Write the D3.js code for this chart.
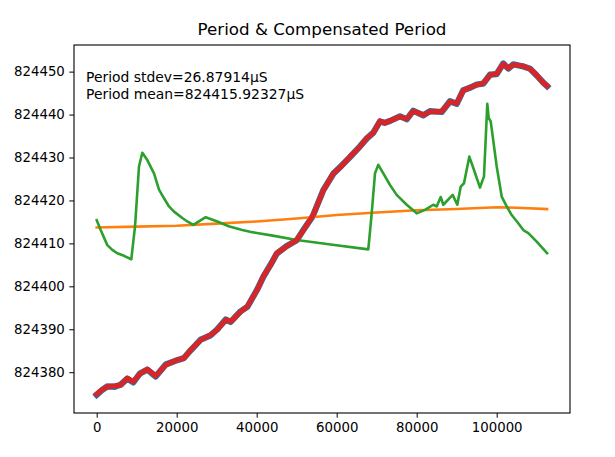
<!DOCTYPE html>
<html>
<head>
<meta charset="utf-8">
<script src="https://cdn.jsdelivr.net/npm/d3@7"></script>
<style>
  html, body { margin: 0; padding: 0; background: #fff; }
  svg { display: block; font-family: "DejaVu Sans", sans-serif; }
</style>
</head>
<body>
<svg id="chart" width="615" height="457"></svg>
<script>
// ---- data ----
const periodX = [0, 1300, 2650, 4500, 6000, 7650, 9150, 10800, 12650, 14750, 17250, 20150, 21800, 23500, 26000, 28500, 30150, 32250, 33500, 36000, 37650, 40150, 41650, 43500, 45000, 47500, 50000, 52000, 54000, 56650, 59150, 61000, 63325, 65825, 67500, 69150, 70825, 72000, 73325, 75825, 77500, 79150, 81650, 83325, 86250, 88325, 90000, 91650, 93500, 95000, 96650, 98325, 100000, 101650, 102900, 104150, 106650, 108325, 110000, 111500, 112600];
const periodY = [824374.7, 824375.8, 824376.7, 824376.6, 824377.1, 824378.5, 824377.6, 824379.7, 824380.6, 824379.0, 824381.8, 824382.8, 824383.3, 824385.1, 824387.6, 824388.6, 824390.0, 824392.3, 824391.7, 824394.2, 824395.2, 824399.3, 824402.2, 824405.1, 824407.6, 824409.4, 824410.7, 824413.6, 824416.3, 824422.4, 824426.2, 824427.9, 824430.1, 824432.6, 824434.4, 824435.8, 824438.4, 824438.1, 824438.5, 824439.6, 824438.9, 824440.9, 824439.8, 824440.8, 824440.6, 824443.1, 824442.5, 824445.7, 824446.3, 824447.0, 824447.2, 824449.3, 824449.4, 824451.9, 824450.7, 824451.7, 824451.2, 824450.7, 824449.1, 824447.6, 824446.6];

const trendX = [0, 10000, 20000, 30000, 40000, 50000, 60000, 70000, 80000, 90000, 100000, 105000, 112600];
const trendY = [824413.7, 824413.9, 824414.1, 824414.6, 824415.1, 824415.8, 824416.6, 824417.2, 824417.7, 824418.0, 824418.4, 824418.3, 824418.0];

const tempX = [0, 1000, 2650, 3900, 5150, 6825, 8650, 9575, 10575, 11400, 12650, 14325, 15575, 16825, 18075, 19325, 21400, 22650, 24150, 27250, 30150, 33000, 36400, 38325, 44000, 50000, 58000, 67900, 68750, 69575, 70400, 71650, 73325, 74990, 77500, 80000, 82075, 84150, 85000, 86000, 86650, 89000, 90150, 91000, 91825, 93150, 94325, 95825, 96825, 97650, 98000, 98500, 100000, 101250, 102500, 103750, 105400, 106650, 107900, 110000, 112600];
const tempY = [824415.4, 824413.1, 824409.6, 824408.5, 824407.7, 824407.1, 824406.3, 824413.9, 824427.9, 824431.1, 824429.4, 824426.3, 824422.5, 824420.5, 824418.6, 824417.4, 824415.9, 824415.1, 824414.3, 824416.1, 824415.1, 824414.0, 824413.1, 824412.7, 824411.8, 824410.8, 824409.8, 824408.6, 824417.0, 824426.3, 824428.3, 824426.3, 824423.6, 824421.3, 824419.0, 824417.0, 824417.8, 824419.0, 824418.6, 824420.8, 824419.0, 824421.3, 824419.0, 824423.2, 824424.0, 824430.2, 824427.1, 824423.0, 824425.6, 824442.5, 824439.2, 824438.4, 824427.9, 824420.9, 824418.6, 824416.6, 824414.7, 824413.1, 824412.4, 824410.4, 824407.7];

const compX = periodX;
const compY = [824374.9, 824375.9, 824376.6, 824376.8, 824377.0, 824378.6, 824377.8, 824379.6, 824380.7, 824379.1, 824381.7, 824382.9, 824383.2, 824385.2, 824387.5, 824388.7, 824389.9, 824392.2, 824391.8, 824394.1, 824395.3, 824399.2, 824402.3, 824405.0, 824407.7, 824409.3, 824410.8, 824413.5, 824416.4, 824422.3, 824426.3, 824427.8, 824430.2, 824432.5, 824434.5, 824435.7, 824438.5, 824438.0, 824438.6, 824439.5, 824439.0, 824440.8, 824439.9, 824440.7, 824440.7, 824443.0, 824442.6, 824445.6, 824446.4, 824446.9, 824447.3, 824449.2, 824449.5, 824451.8, 824450.8, 824451.6, 824451.3, 824450.6, 824449.2, 824447.5, 824446.7];

const xTicks = [0, 20000, 40000, 60000, 80000, 100000];
const yTicks = [824380, 824390, 824400, 824410, 824420, 824430, 824440, 824450];
const titleText = "Period & Compensated Period";
const noteLines = ["Period stdev=26.87914\u03bcS", "Period mean=824415.92327\u03bcS"];

// ---- layout ----
const svg = d3.select("#chart");
const L = 74, R = 570, T = 45, B = 413;

const x = d3.scaleLinear().domain([-5675, 118325]).range([L, R]);
const y = d3.scaleLinear().domain([824370.5, 824456.2]).range([B, T]);

const g = svg.append("g");

function drawLine(xs, ys, color, w) {
  const pts = xs.map((v, i) => [v, ys[i]]);
  g.append("path")
    .datum(pts)
    .attr("fill", "none")
    .attr("stroke", color)
    .attr("stroke-width", w)
    .attr("stroke-linejoin", "round")
    .attr("stroke-linecap", "square")
    .attr("d", d3.line().x(d => x(d[0])).y(d => y(d[1])));
}

drawLine(periodX, periodY, "#1f77b4", 6.2);
drawLine(trendX, trendY, "#ff7f0e", 2.6);
drawLine(tempX, tempY, "#2ca02c", 2.6);
drawLine(compX, compY, "#d62728", 5.2);

// axes
const xAxis = d3.axisBottom(x).tickValues(xTicks).tickFormat(d3.format("d")).tickSize(4.7).tickPadding(4.5);
const yAxis = d3.axisLeft(y).tickValues(yTicks).tickFormat(d3.format("d")).tickSize(4.7).tickPadding(4.5);

const gx = svg.append("g").attr("transform", `translate(0,${B})`).call(xAxis);
const gy = svg.append("g").attr("transform", `translate(${L},0)`).call(yAxis);
[gx, gy].forEach(a => {
  a.select(".domain").remove();
  a.selectAll("line").attr("stroke", "#000").attr("stroke-width", 1);
  a.selectAll("text").attr("font-size", "13.3px").attr("fill", "#000").attr("font-family", "DejaVu Sans, sans-serif");
});

// frame
svg.append("rect").attr("x", L).attr("y", T).attr("width", R - L).attr("height", B - T)
  .attr("fill", "none").attr("stroke", "#000").attr("stroke-width", 1.1);

// title
svg.append("text").attr("x", (L + R) / 2).attr("y", 35).attr("text-anchor", "middle")
  .attr("font-size", "16.7px").attr("fill", "#000").text(titleText);

// annotation
noteLines.forEach((t, i) => {
  svg.append("text").attr("x", 86).attr("y", 81.5 + i * 17.7)
    .attr("font-size", "13.9px").attr("fill", "#000").text(t);
});
</script>
</body>
</html>
